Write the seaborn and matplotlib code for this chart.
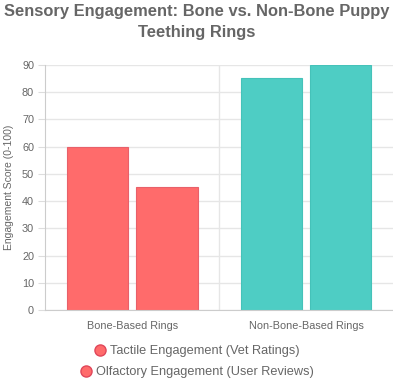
import pandas as pd
import matplotlib.pyplot as plt
import seaborn as sns
from matplotlib.lines import Line2D

# Data
categories = ['Bone-Based Rings', 'Non-Bone-Based Rings']
series_names = ['Tactile Engagement (Vet Ratings)', 'Olfactory Engagement (User Reviews)']
tactile = [60, 85]
olfactory = [45, 90]
category_colors = ['#FF6B6B', '#4ECDC4']
category_edges = ['#E8606A', '#45C2B9']

df = pd.DataFrame({
    'category': categories * 2,
    'series': [series_names[0]] * 2 + [series_names[1]] * 2,
    'score': tactile + olfactory,
})

sns.set_style('white')
plt.rcParams['font.family'] = ['Liberation Sans', 'DejaVu Sans']
text_color = '#666666'

fig = plt.figure(figsize=(3.93, 3.88), dpi=100)
ax = fig.add_axes([0.115, 0.201, 0.885, 0.632])

sns.barplot(data=df, x='category', y='score', hue='series', order=categories,
            hue_order=series_names, width=0.8, gap=0.12, ax=ax, legend=False,
            linewidth=0.8)

# colour bars by category rather than by series
for patch in ax.patches:
    cx = patch.get_x() + patch.get_width() / 2
    idx = 0 if cx < 0.5 else 1
    patch.set_facecolor(category_colors[idx])
    patch.set_edgecolor(category_edges[idx])

ax.set_ylim(0, 90)
ax.set_xlim(-0.5, 1.5)
ax.set_yticks(range(0, 91, 10))
ax.grid(axis='y', color='#e6e6e6', linewidth=1)
ax.set_axisbelow(True)
ax.axvline(0.5, color='#e6e6e6', linewidth=1, zorder=0)
ax.set_xticks([0, 0.5, 1], labels=[categories[0], '', categories[1]])
ax.tick_params(axis='x', length=0, pad=8, labelsize=7.8, labelcolor=text_color)
ax.tick_params(axis='y', length=5, color='#dddddd', pad=3, labelsize=7.8, labelcolor=text_color, left=True)
for s in ['top', 'right']:
    ax.spines[s].set_visible(False)
for s in ['left', 'bottom']:
    ax.spines[s].set_color('#cccccc')
ax.set_xlabel('')
ax.set_ylabel('Engagement Score (0-100)', fontsize=7.5, color=text_color, labelpad=6)

fig.suptitle('Sensory Engagement: Bone vs. Non-Bone Puppy\nTeething Rings',
             fontsize=11.9, fontweight='bold', color=text_color, y=0.99,
             linespacing=1.5)

# Chart.js-style legend: each row centred on its own
for i, name in enumerate(series_names):
    h = Line2D([], [], marker='o', linestyle='', markersize=8,
               markerfacecolor=category_colors[0], markeredgecolor='#E0475A')
    fig.legend([h], [name], loc='center', bbox_to_anchor=(0.5, 1 - (351 + 21 * i) / 388),
               frameon=False, fontsize=9.2, labelcolor=text_color,
               handletextpad=0.3, handlelength=1.0, borderpad=0)

fig.savefig('out.png', dpi=100)
